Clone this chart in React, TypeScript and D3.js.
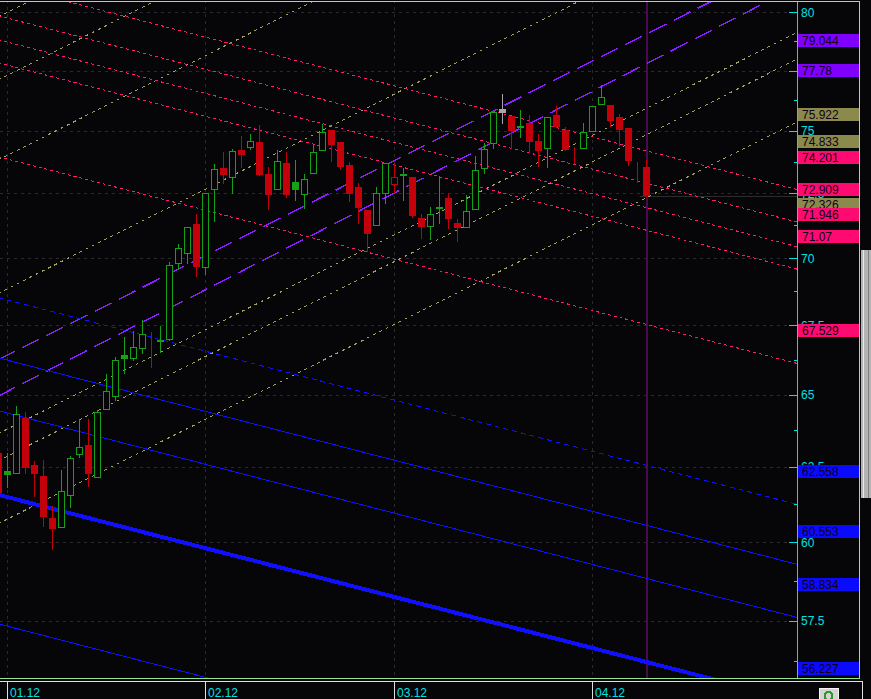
import React from "react";
import * as d3 from "d3";

// ---------- data ----------
const monthLabels = ["01.12", "02.12", "03.12", "04.12"];
const monthBars = [0, 22, 43, 65];

const firstBar = -1;
const priorClose = 62.4;
const highlightBar = 55;
const currentBar = 71;

const opens = [62.98, 62.36, 62.30, 64.18, 62.57, 62.20, 60.79, 60.50, 61.56, 62.94, 63.25, 62.16, 64.50, 64.95, 66.41, 66.31, 66.67, 66.92, 66.92, 67.00, 69.81, 70.19, 71.31, 69.66, 72.67, 73.51, 73.15, 74.23, 74.35, 74.55, 73.27, 72.67, 73.71, 72.95, 72.48, 73.31, 74.23, 75.04, 74.55, 73.63, 72.75, 71.85, 71.27, 72.52, 72.87, 73.23, 73.15, 71.54, 71.23, 71.93, 72.32, 71.35, 71.19, 71.89, 73.51, 74.51, 75.73, 75.61, 75.16, 75.32, 74.59, 74.31, 75.65, 75.04, 74.15, 74.31, 75.00, 76.10, 76.06, 75.57, 75.12, 73.63, 73.55];
const highs = [63.25, 62.98, 64.60, 64.39, 62.70, 62.74, 61.19, 62.40, 62.87, 64.15, 64.15, 64.46, 65.73, 66.34, 67.07, 67.29, 67.69, 67.25, 67.47, 69.85, 70.54, 71.19, 71.70, 72.52, 73.67, 74.15, 74.27, 74.79, 74.87, 75.24, 73.55, 74.23, 74.15, 73.83, 73.27, 74.47, 75.28, 75.04, 74.55, 73.75, 72.91, 71.85, 72.75, 73.71, 73.71, 73.51, 73.15, 71.70, 71.97, 73.19, 72.48, 71.50, 72.44, 73.99, 74.51, 75.78, 76.52, 75.61, 75.86, 75.65, 74.88, 75.57, 76.02, 75.16, 74.35, 75.32, 76.02, 76.89, 76.06, 75.69, 75.12, 73.75, 73.83];
const lows = [61.39, 61.83, 62.30, 62.30, 61.52, 60.53, 59.78, 60.50, 61.16, 62.84, 61.86, 62.16, 64.50, 64.81, 65.77, 66.23, 66.49, 65.98, 66.52, 66.96, 69.63, 69.81, 69.32, 69.40, 71.42, 72.91, 72.52, 73.55, 74.27, 73.23, 71.89, 72.67, 72.36, 72.24, 71.93, 73.31, 74.23, 73.79, 73.47, 72.20, 71.35, 70.27, 71.27, 72.12, 72.56, 72.24, 71.58, 70.77, 70.73, 71.35, 71.15, 70.65, 71.19, 71.89, 73.31, 74.31, 75.32, 74.31, 74.75, 74.15, 73.59, 73.55, 75.16, 74.23, 73.71, 74.31, 75.00, 76.10, 75.20, 74.43, 73.63, 72.95, 72.40];
const closes = [61.62, 62.23, 64.32, 62.47, 62.26, 60.83, 60.43, 61.69, 62.80, 63.18, 62.26, 64.39, 65.13, 66.23, 66.27, 66.70, 67.18, 66.92, 66.96, 69.74, 70.38, 71.19, 69.66, 72.52, 73.47, 73.23, 74.19, 74.03, 74.59, 73.23, 72.44, 73.79, 72.44, 72.63, 73.07, 74.15, 74.96, 74.43, 73.55, 72.48, 71.93, 70.92, 72.52, 73.71, 73.15, 73.27, 71.62, 71.19, 71.70, 71.97, 71.50, 71.15, 71.81, 73.43, 74.27, 75.78, 75.90, 75.00, 75.20, 74.55, 74.19, 75.57, 75.16, 74.23, 74.15, 74.96, 76.02, 76.39, 75.41, 75.04, 73.79, 73.63, 72.40];

// trend lines: value at bar 0 and value at bar 71 (right-hand labels)
const purpleStart = [66.40, 65.11];
const purpleEnd = [79.044, 77.78];
const oliveStart = [79.98, 77.29, 74.01, 68.84, 63.79, 62.86, 60.75];
const oliveEnd = [95.22, 92.02, 88.11, 81.95, 75.922, 74.833, 72.326];
const pinkStart = [81.14, 79.74, 78.71, 77.73, 73.87];
const pinkEnd = [74.201, 72.909, 71.946, 71.07, 67.529];
const blueStart = [68.43, 66.23, 64.36, 61.49, 57.33];
const blueEnd = [62.558, 60.553, 58.834, 56.227, 52.42];

const majorTicks = [80, 77.5, 75, 72.5, 70, 67.5, 65, 62.5, 60, 57.5];
const minorTicks = [78.75, 76.25, 73.75, 71.25, 68.75, 66.25, 63.75, 61.25, 58.75, 56.25];

// ---------- styles ----------
const BG = "#060609";
const GREEN = "#16a016";
const RED = "#c4000a";
const CYAN = "#00e2e2";
const BORDER = "#8ee88e";
const PLOT_R = 797;
const PLOT_B = 678;

const families = [
  { starts: oliveStart, ends: oliveEnd, color: "#a2a25e", box: "#8a8a4c", dash: ["3 4"], width: [1] },
  { starts: pinkStart, ends: pinkEnd, color: "#ff1678", box: "#ff0a70", dash: ["3 3"], width: [1] },
  { starts: purpleStart, ends: purpleEnd, color: "#8c1eff", box: "#8000ff", dash: ["19 8"], width: [1.4] },
  { starts: blueStart, ends: blueEnd, color: "#1010ff", box: "#0a0aff", dash: ["5 4", "", "", "", ""], width: [1, 1, 1, 4, 1] },
];

export default function App() {
  const x = d3.scaleLinear().domain([0, 71]).range([7, 646]);
  const y = d3.scaleLog().domain([57.5, 80]).range([620.6, 12]);
  const iL = x.invert(-2);
  const iR = x.invert(PLOT_R + 2);

  const lineVal = (v0: number, v1: number, i: number) =>
    Math.exp(Math.log(v0) + ((Math.log(v1) - Math.log(v0)) * i) / 71);
  const gen = d3.line<[number, number]>().x((d) => x(d[0])).y((d) => y(d[1]));

  const font = "'Liberation Sans', Arial, sans-serif";
  const lastY = Math.round(y(closes[closes.length - 1])) + 0.5;

  return (
    <svg width={871} height={699} style={{ position: "absolute", left: 0, top: 0, display: "block" }}
      xmlns="http://www.w3.org/2000/svg">
      <defs>
        <clipPath id="plot"><rect x={0} y={2} width={PLOT_R} height={PLOT_B - 2} /></clipPath>
      </defs>
      <rect x={0} y={0} width={871} height={699} fill={BG} />

      {/* grid */}
      <g shapeRendering="crispEdges" clipPath="url(#plot)">
        {majorTicks.map((t) => (
          <line key={"h" + t} x1={0} x2={PLOT_R} y1={Math.round(y(t)) + 0.5} y2={Math.round(y(t)) + 0.5}
            stroke="#2a2a2e" strokeDasharray="3 4" />
        ))}
        {monthBars.map((b) => (
          <line key={"v" + b} x1={x(b) + 0.5} x2={x(b) + 0.5} y1={0} y2={PLOT_B} stroke="#2a2a2e" strokeDasharray="3 4" />
        ))}
        <line x1={x(currentBar) - 6} x2={PLOT_R} y1={lastY} y2={lastY} stroke="#2c2c2c" />
        <line x1={x(currentBar) + 0.5} x2={x(currentBar) + 0.5} y1={0} y2={PLOT_B} stroke="#4a0a4e" strokeWidth={2} />
      </g>

      {/* trend lines */}
      <g clipPath="url(#plot)" fill="none" shapeRendering="crispEdges">
        {families.map((f, fi) =>
          f.starts.map((v0, k) => {
            const v1 = f.ends[k];
            const pts: [number, number][] = [[iL, lineVal(v0, v1, iL)], [iR, lineVal(v0, v1, iR)]];
            const dash = f.dash[k] !== undefined ? f.dash[k] : f.dash[0];
            const w = f.width[k] !== undefined ? f.width[k] : f.width[0];
            return (
              <path key={fi + "-" + k} d={gen(pts) || ""} stroke={f.color} strokeWidth={w}
                strokeDasharray={dash || undefined} />
            );
          })
        )}
      </g>

      {/* candles */}
      <g clipPath="url(#plot)" shapeRendering="crispEdges">
        {opens.map((o, k) => {
          const i = firstBar + k;
          const c = closes[k];
          const prev = k === 0 ? priorClose : closes[k - 1];
          const hl = i === highlightBar;
          const col = hl ? "#a6a6a6" : c > prev ? GREEN : RED;
          const hollow = !hl && c >= o;
          const cx = Math.round(x(i)) + 0.5;
          const yt = Math.round(y(Math.max(o, c)));
          const yb = Math.round(y(Math.min(o, c)));
          return (
            <g key={"c" + i}>
              <line x1={cx} x2={cx} y1={Math.round(y(highs[k]))} y2={Math.round(y(lows[k])) + 1} stroke={col} />
              {hollow ? (
                <rect x={cx - 3} y={yt + 0.5} width={6} height={Math.max(0, yb - yt)} fill={BG} stroke={col} />
              ) : (
                <rect x={cx - 3.5} y={yt} width={7} height={Math.max(1, yb - yt)} fill={col} />
              )}
            </g>
          );
        })}
      </g>

      {/* frame */}
      <g shapeRendering="crispEdges">
        <line x1={0} x2={860} y1={1.5} y2={1.5} stroke={BORDER} />
        <line x1={0} x2={860} y1={PLOT_B + 0.5} y2={PLOT_B + 0.5} stroke={BORDER} />
        <line x1={859.5} x2={859.5} y1={1} y2={PLOT_B + 1} stroke={BORDER} strokeWidth={1} />
        <line x1={PLOT_R + 0.5} x2={PLOT_R + 0.5} y1={2} y2={PLOT_B} stroke={CYAN} />
        <rect x={861} y={250} width={10} height={248} fill="#b4b4b4" />
        <line x1={863.5} x2={863.5} y1={250} y2={498} stroke="#e8e8e8" />
        <line x1={868.5} x2={868.5} y1={250} y2={498} stroke="#808080" />
      </g>

      {/* y axis ticks and labels */}
      <g shapeRendering="crispEdges">
        {majorTicks.map((t) => (
          <line key={"mt" + t} x1={789} x2={PLOT_R} y1={Math.round(y(t)) + 0.5} y2={Math.round(y(t)) + 0.5} stroke={CYAN} />
        ))}
        {minorTicks.map((t) => (
          <line key={"nt" + t} x1={794} x2={PLOT_R} y1={Math.round(y(t)) + 0.5} y2={Math.round(y(t)) + 0.5} stroke={CYAN} />
        ))}
      </g>
      {majorTicks.map((t) => (
        <text key={"tl" + t} x={801} y={y(t) + 4.5} fill={CYAN} fontFamily={font} fontSize={12}>
          {String(t)}
        </text>
      ))}

      {/* value boxes at the current bar */}
      {families.map((f, fi) =>
        f.ends.map((v, k) => {
          const yy = Math.round(y(v));
          if (yy < 0 || yy > PLOT_B - 10) return null;
          return (
            <g key={"b" + fi + "-" + k}>
              <rect x={798} y={yy} width={61} height={13} fill={f.box} shapeRendering="crispEdges" />
              <text x={802} y={yy + 11} fill="#120018" fontFamily={font} fontSize={12}>{String(v)}</text>
            </g>
          );
        })
      )}

      {/* x axis */}
      <g shapeRendering="crispEdges">
        <line x1={0} x2={862} y1={681.5} y2={681.5} stroke="#e0e0e0" />
        <line x1={862.5} x2={862.5} y1={681} y2={699} stroke="#e0e0e0" />
        {monthBars.map((b) => (
          <line key={"xt" + b} x1={x(b) + 0.5} x2={x(b) + 0.5} y1={682} y2={699} stroke="#e0e0e0" />
        ))}
        <rect x={819} y={688} width={19} height={12} fill="#d4d4d4" stroke="#f4f4f4" />
        <circle cx={828.5} cy={696} r={4} fill="none" stroke="#2a9a2a" strokeWidth={2} />
      </g>
      {monthLabels.map((m, k) => (
        <text key={m} x={x(monthBars[k]) + 3} y={697} fill={CYAN} fontFamily={font} fontSize={12}>{m}</text>
      ))}
    </svg>
  );
}
